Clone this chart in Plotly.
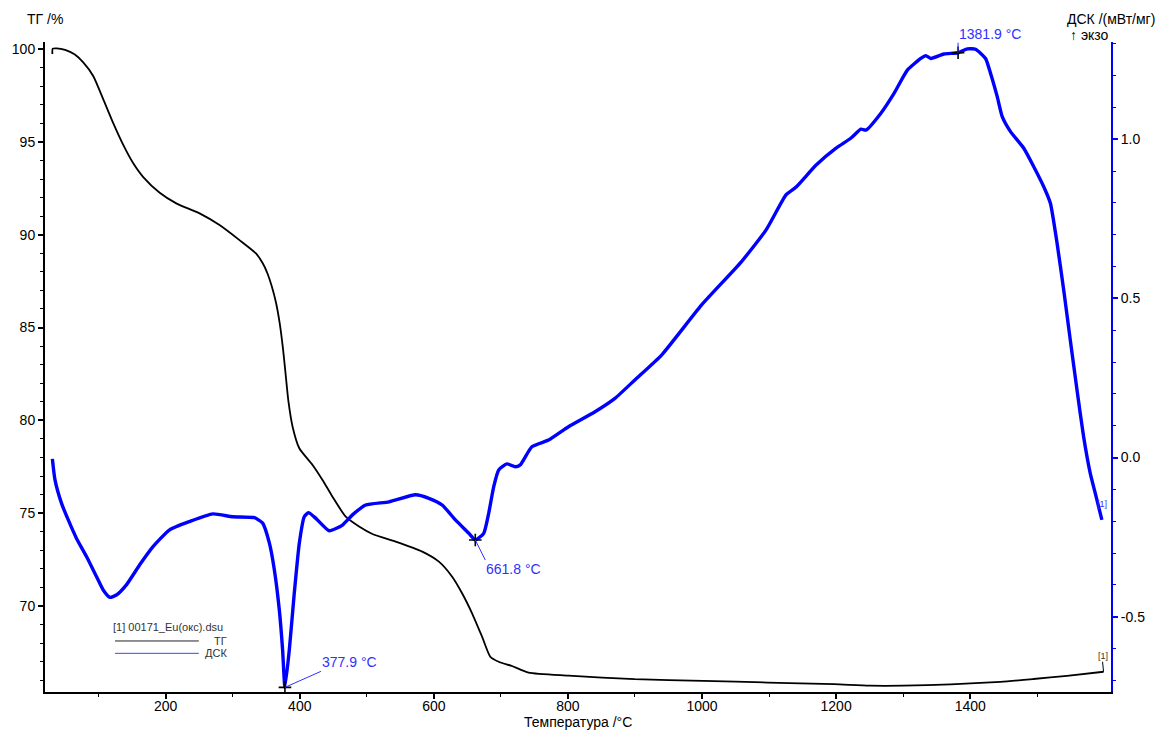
import plotly.graph_objects as go

# --- Thermogravimetry (ТГ), mass % versus temperature, °C ---
tg_temp = [31.0, 31.5, 37.3, 50.0, 64.0, 77.0, 91.9, 106.8, 121.6, 136.5, 151.4, 166.2, 191.1,
           215.8, 250.6, 280.3, 310.1, 334.7, 345.0, 352.0, 358.0, 364.5, 370.0, 375.0, 379.0,
           383.0, 389.3, 399.3, 419.1, 433.9, 448.8, 468.6, 488.5, 508.3, 543.0, 582.7, 607.5,
           627.3, 642.1, 657.0, 671.9, 684.2, 696.7, 716.5, 741.3, 800.8, 899.4, 1001.6,
           1098.3, 1196.9, 1250.0, 1300.0, 1370.9, 1445.2, 1494.3, 1544.4, 1598.9]
tg_mass = [99.73, 100.02, 100.04, 99.96, 99.72, 99.28, 98.55, 97.30, 96.02, 94.85, 93.86, 93.12, 92.26,
           91.69, 91.15, 90.52, 89.71, 88.99, 88.45, 87.90, 87.25, 86.35, 85.25, 83.85, 82.45,
           81.05, 79.66, 78.50, 77.60, 76.79, 75.89, 74.81, 74.28, 73.88, 73.47, 72.93, 72.39,
           71.58, 70.69, 69.61, 68.35, 67.27, 67.00, 66.77, 66.41, 66.25, 66.06, 65.97,
           65.88, 65.79, 65.71, 65.71, 65.78, 65.92, 66.07, 66.24, 66.46]

# --- Differential scanning calorimetry (ДСК), mW/mg, exo up ---
dsc_temp = [31.0, 34.9, 44.7, 54.7, 67.0, 81.9, 96.8, 106.8, 116.7, 126.5, 141.4, 161.3,
            181.1, 205.9, 235.7, 270.3, 300.1, 332.4, 344.7, 354.7, 362.1, 369.5, 374.4,
            377.9, 384.4, 391.8, 399.3, 406.7, 413.1, 424.0, 443.9, 463.7, 478.6, 498.3,
            533.1, 572.7, 592.6, 612.4, 632.2, 652.1, 661.8, 674.4, 681.8, 689.3, 696.7,
            709.1, 721.4, 728.9, 746.2, 771.1, 800.8, 840.4, 870.1, 899.9, 939.6, 999.1,
            1058.6, 1095.8, 1125.5, 1140.4, 1170.2, 1199.9, 1222.2, 1237.0, 1244.5, 1266.8,
            1286.6, 1306.5, 1326.3, 1333.7, 1341.2, 1360.9, 1381.9, 1395.7, 1408.0, 1422.9,
            1430.4, 1440.3, 1447.8, 1460.1, 1479.9, 1494.8, 1509.7, 1519.6, 1529.6, 1539.4,
            1549.3, 1559.3, 1569.1, 1579.0, 1586.5, 1596.4]
dsc_signal = [-0.004, -0.070, -0.144, -0.196, -0.254, -0.311, -0.374, -0.416, -0.439, -0.432,
              -0.400, -0.337, -0.280, -0.227, -0.201, -0.177, -0.186, -0.189, -0.206, -0.269,
              -0.353, -0.479, -0.604, -0.722, -0.604, -0.426, -0.269, -0.186, -0.173, -0.191,
              -0.230, -0.212, -0.180, -0.149, -0.139, -0.117, -0.128, -0.149, -0.196, -0.238,
              -0.259, -0.238, -0.175, -0.091, -0.039, -0.020, -0.029, -0.023, 0.034, 0.055,
              0.097, 0.144, 0.186, 0.244, 0.322, 0.479, 0.615, 0.716, 0.826, 0.850, 0.919,
              0.972, 1.004, 1.032, 1.029, 1.082, 1.145, 1.218, 1.254, 1.263, 1.254, 1.268,
              1.272, 1.284, 1.283, 1.254, 1.207, 1.134, 1.071, 1.024, 0.972, 0.914, 0.851,
              0.799, 0.673, 0.527, 0.369, 0.212, 0.066, -0.049, -0.112, -0.196]

# Marked DSC peak temperatures, °C
peak_temps = [377.9, 661.8, 1381.9]

# Axis ticks
x_ticks = [200, 400, 600, 800, 1000, 1200, 1400]
x_minor = [100, 300, 500, 700, 900, 1100, 1300, 1500]
tg_ticks = [70, 75, 80, 85, 90, 95, 100]
dsc_ticks = [-0.5, 0.0, 0.5, 1.0]

FONT = "Liberation Sans, Arial, sans-serif"
BLUE = "#0000ff"
LABEL_BLUE = "#3030ff"

peak_vals = [dsc_signal[dsc_temp.index(t)] for t in peak_temps]

fig = go.Figure()
fig.add_trace(go.Scatter(x=tg_temp, y=tg_mass, mode="lines", name="ТГ",
                         line=dict(color="black", width=1.8, shape="spline", smoothing=0.6),
                         yaxis="y", showlegend=False))
fig.add_trace(go.Scatter(x=dsc_temp, y=dsc_signal, mode="lines", name="ДСК",
                         line=dict(color=BLUE, width=3.4, shape="spline", smoothing=0.5),
                         yaxis="y2", showlegend=False))
fig.add_trace(go.Scatter(x=peak_temps, y=peak_vals, mode="markers", yaxis="y2",
                         marker=dict(symbol="cross-thin", size=9,
                                     line=dict(color="black", width=1.6)),
                         showlegend=False, hoverinfo="x+y"))

annotations = []
# peak labels with leader lines
label_offsets = {377.9: (36, -16, "left", "bottom"),
                 661.8: (10, 20, "left", "top"),
                 1381.9: (0, -10, "left", "bottom")}
for t, v in zip(peak_temps, peak_vals):
    ax, ay, xa, ya = label_offsets[t]
    annotations.append(dict(x=t, y=v, xref="x", yref="y2", text=f"{t:.1f} °C",
                            showarrow=True, arrowhead=0, arrowwidth=1, arrowcolor=LABEL_BLUE,
                            ax=ax, ay=ay, xanchor=xa, yanchor=ya, borderpad=0,
                            font=dict(family=FONT, size=14, color=LABEL_BLUE)))

# curve end tags
annotations.append(dict(x=tg_temp[-1], y=tg_mass[-1], xref="x", yref="y", text="[1]",
                        showarrow=True, arrowhead=0, arrowwidth=1, arrowcolor="black",
                        ax=-1, ay=-10, xanchor="center", yanchor="bottom", borderpad=0,
                        font=dict(family=FONT, size=9, color="#333333")))
annotations.append(dict(x=dsc_temp[-1], y=dsc_signal[-1], xref="x", yref="y2", text="[1]",
                        showarrow=False, yshift=16, xanchor="center", yanchor="middle",
                        font=dict(family=FONT, size=9, color=LABEL_BLUE)))

# axis titles
annotations += [
    dict(x=0.0, y=1.035, xref="paper", yref="paper", text="ТГ /%", showarrow=False,
         xanchor="center", yanchor="middle", font=dict(family=FONT, size=14, color="black")),
    dict(x=1.0, y=1.035, xref="paper", yref="paper", text="ДСК /(мВт/мг)", showarrow=False,
         xanchor="center", yanchor="middle", font=dict(family=FONT, size=14, color="black")),
    dict(x=1.0, y=1.0105, xref="paper", yref="paper", text="↑ экзо", showarrow=False,
         xanchor="right", yanchor="middle", font=dict(family=FONT, size=14, color="black")),
    dict(x=0.5, y=-0.0462, xref="paper", yref="paper", text="Температура /°C", showarrow=False,
         xanchor="center", yanchor="middle", font=dict(family=FONT, size=14, color="black")),
]

# legend block
annotations += [
    dict(x=0.062, y=0.1005, xref="paper", yref="paper", text="[1] 00171_Eu(окс).dsu",
         showarrow=False, xanchor="left", yanchor="middle",
         font=dict(family=FONT, size=11, color="#333333")),
    dict(x=0.1725, y=0.0785, xref="paper", yref="paper", text="ТГ", showarrow=False,
         xanchor="right", yanchor="middle", font=dict(family=FONT, size=11, color="#333333")),
    dict(x=0.1725, y=0.0595, xref="paper", yref="paper", text="ДСК", showarrow=False,
         xanchor="right", yanchor="middle", font=dict(family=FONT, size=11, color="#333333")),
]
shapes = [
    dict(type="line", xref="paper", yref="paper", x0=0.0657, x1=0.1443, y0=0.0785, y1=0.0785,
         line=dict(color="#222222", width=1)),
    dict(type="line", xref="paper", yref="paper", x0=0.0657, x1=0.1443, y0=0.0595, y1=0.0595,
         line=dict(color="#4040ff", width=1)),
]

tickfont = dict(family=FONT, size=14, color="black")
fig.update_layout(
    width=1172, height=731,
    margin=dict(l=42, r=61, t=42, b=39),
    paper_bgcolor="white", plot_bgcolor="white",
    font=dict(family=FONT, size=14, color="black"),
    annotations=annotations, shapes=shapes,
    xaxis=dict(range=[20, 1610], showline=True, linecolor="black", linewidth=2,
               ticks="outside", ticklen=5, tickwidth=1.5, tickcolor="black",
               tickmode="array", tickvals=x_ticks, tickfont=tickfont,
               ticklabelstandoff=-5,
               minor=dict(tickmode="array", tickvals=x_minor, ticklen=3, tickwidth=1,
                          tickcolor="black", showgrid=False),
               showgrid=False, zeroline=False),
    yaxis=dict(range=[65.37, 100.38], showline=True, linecolor="black", linewidth=2,
               ticks="outside", ticklen=5, tickwidth=1.5, tickcolor="black",
               tickmode="array", tickvals=tg_ticks, tickfont=tickfont,
               minor=dict(tickmode="linear", tick0=0, dtick=1, ticklen=3, tickwidth=1,
                          tickcolor="black", showgrid=False),
               showgrid=False, zeroline=False),
    yaxis2=dict(range=[-0.7366, 1.3057], overlaying="y", side="right", anchor="x",
                showline=True, linecolor=BLUE, linewidth=2,
                ticks="outside", ticklen=5, tickwidth=1.5, tickcolor=BLUE,
                tickmode="array", tickvals=dsc_ticks,
                ticktext=[f"{v:.1f}" for v in dsc_ticks], tickfont=tickfont,
                minor=dict(tickmode="linear", tick0=0, dtick=0.1, ticklen=3, tickwidth=1,
                           tickcolor=BLUE, showgrid=False),
                showgrid=False, zeroline=False),
)

fig.write_html("out.html")
